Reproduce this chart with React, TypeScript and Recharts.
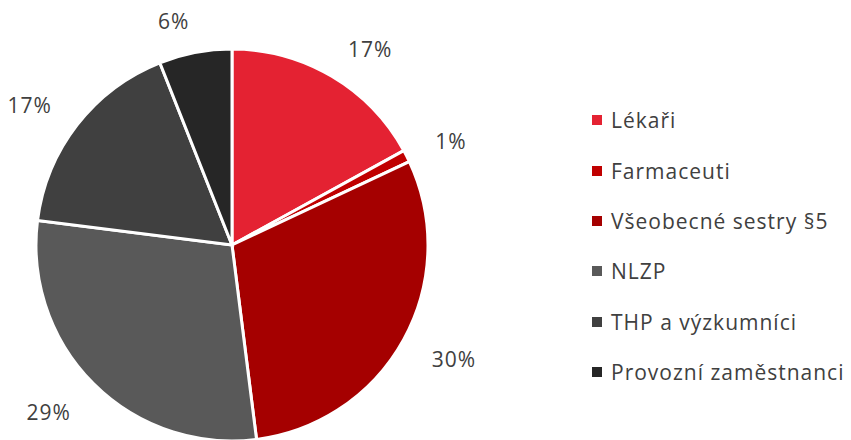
import React from "react";
import { PieChart, Pie, Cell, Legend } from "recharts";

const categories = [
  "Lékaři",
  "Farmaceuti",
  "Všeobecné sestry §5",
  "NLZP",
  "THP a výzkumníci",
  "Provozní zaměstnanci",
];
const shares = [17, 1, 30, 29, 17, 6];
const colors = ["#E42232", "#C00000", "#A50000", "#595959", "#404040", "#262626"];

const data = categories.map((name, i) => ({ name, value: shares[i] }));

const RAD = Math.PI / 180;
const FONT = "'Open Sans', Lato, sans-serif";

const renderLabel = (props: any) => {
  const { cx, cy, midAngle, value } = props;
  const R = 228;
  const c = Math.cos(-midAngle * RAD);
  const x = cx + R * c;
  let y = cy + R * Math.sin(-midAngle * RAD);
  const up = -Math.sin(-midAngle * RAD);
  if (up < 0) y += -up * 8;
  const anchor = c >= 0 ? "start" : "end";
  return (
    <text
      x={x}
      y={y}
      textAnchor={anchor}
      dominantBaseline="central"
      fill="#404040"
      fontSize={21}
      letterSpacing={1}
      fontFamily={FONT}
    >
      {`${value}%`}
    </text>
  );
};

const LegendContent = () => (
  <div style={{ fontFamily: FONT, fontSize: 21, letterSpacing: 1, color: "#404040" }}>
    {categories.map((name, i) => (
      <div
        key={name}
        style={{ display: "flex", alignItems: "center", height: 50.4, whiteSpace: "nowrap" }}
      >
        <span
          style={{
            display: "inline-block",
            width: 10,
            height: 10,
            background: colors[i],
            marginRight: 9,
          }}
        />
        <span>{name}</span>
      </div>
    ))}
  </div>
);

export default function App() {
  return (
    <div style={{ position: "absolute", left: 0, top: 0, width: 851, height: 440, background: "#fff" }}>
      <PieChart width={851} height={440} margin={{ top: 0, right: 0, bottom: 0, left: 0 }}>
        <Pie
          data={data}
          dataKey="value"
          nameKey="name"
          cx={232}
          cy={245}
          outerRadius={196}
          startAngle={90}
          endAngle={-270}
          stroke="#ffffff"
          strokeWidth={3}
          label={renderLabel}
          labelLine={false}
          isAnimationActive={false}
        >
          {data.map((d, i) => (
            <Cell key={d.name} fill={colors[i]} />
          ))}
        </Pie>
        <Legend
          content={<LegendContent />}
          wrapperStyle={{ position: "absolute", left: 592, top: 95, width: 259 }}
        />
      </PieChart>
    </div>
  );
}
